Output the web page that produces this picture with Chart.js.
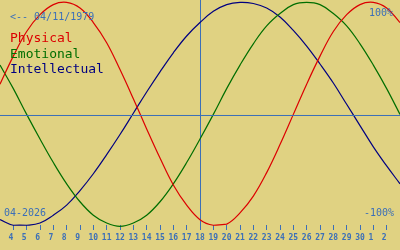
<!DOCTYPE html>
<html>
<head>
<meta charset="utf-8">
<script src="https://cdn.jsdelivr.net/npm/chart.js@4/dist/chart.umd.min.js"></script>
<style>
  html, body { margin: 0; padding: 0; background: #e0d282; }
  #wrap { width: 400px; height: 250px; position: relative; }
</style>
</head>
<body>
<div id="wrap"><canvas id="c"></canvas></div>
<script>
// Days shown (April 2026 continuing into May: 31 = May 1, 32 = May 2, 33 = May 3)
const days = [3,4,5,6,7,8,9,10,11,12,13,14,15,16,17,18,19,20,21,22,23,24,25,26,27,28,29,30,31,32,33];
const physical = [0.28,0.53,0.75,0.90,0.99,1.01,0.96,0.83,0.65,0.41,0.15,-0.12,-0.38,-0.62,-0.80,-0.93,-0.98,-0.97,-0.87,-0.72,-0.51,-0.26,0.01,0.28,0.53,0.75,0.90,0.99,1.01,0.96,0.83];
const emotional = [0.45,0.24,0.01,-0.21,-0.42,-0.61,-0.77,-0.89,-0.96,-0.99,-0.96,-0.89,-0.77,-0.61,-0.42,-0.21,0.01,0.24,0.45,0.64,0.80,0.91,0.99,1.01,0.99,0.91,0.80,0.64,0.45,0.24,0.01];
const intellectual = [-0.93,-0.98,-0.98,-0.96,-0.89,-0.80,-0.67,-0.52,-0.35,-0.17,0.02,0.21,0.39,0.56,0.71,0.83,0.93,0.99,1.01,1.00,0.96,0.88,0.76,0.62,0.46,0.29,0.10,-0.09,-0.28,-0.45,-0.61];
const tickDays = [4,5,6,7,8,9,10,11,12,13,14,15,16,17,18,19,20,21,22,23,24,25,26,27,28,29,30,31,32];
const tickLabels = ['4','5','6','7','8','9','10','11','12','13','14','15','16','17','18','19','20','21','22','23','24','25','26','27','28','29','30','1','2'];
const today = 18;
const birthText = '<-- 04/11/1979';
const monthText = '04-2026';
const seriesNames = ['Physical','Emotional','Intellectual'];

const BLUE = '#3b6fb8';
const RED = '#dc0000';
const GREEN = '#006e00';
const NAVY = '#000080';

const pts = (arr) => days.map((d, i) => ({x: d, y: arr[i]}));

const textPlugin = {
  id: 'texts',
  afterDatasetsDraw(chart) {
    const ctx = chart.ctx;
    ctx.save();
    ctx.textAlign = 'left';
    ctx.textBaseline = 'alphabetic';
    ctx.font = '10px "DejaVu Sans Mono"';
    ctx.fillStyle = BLUE;
    ctx.fillText(birthText, 10, 20);
    ctx.fillText(monthText, 4, 216);
    ctx.fillText('100%', 369, 16);
    ctx.fillText('-100%', 364, 216);
    ctx.font = '13px "DejaVu Sans Mono"';
    const cols = [RED, GREEN, NAVY];
    seriesNames.forEach((n, i) => {
      ctx.fillStyle = cols[i];
      ctx.fillText(n, 10, 42 + i * 15.5);
    });
    ctx.restore();
  }
};

new Chart(document.getElementById('c'), {
  type: 'line',
  data: {
    datasets: [
      { data: [{x: days[0], y: 0}, {x: days[days.length - 1], y: 0}], borderColor: BLUE, borderWidth: 1, tension: 0, clip: false },
      { label: seriesNames[0], data: pts(physical), borderColor: RED, borderWidth: 1.2, tension: 0.4, clip: false },
      { label: seriesNames[1], data: pts(emotional), borderColor: GREEN, borderWidth: 1.2, tension: 0.4, clip: false },
      { label: seriesNames[2], data: pts(intellectual), borderColor: NAVY, borderWidth: 1.2, tension: 0.4, clip: false }
    ]
  },
  options: {
    responsive: true,
    maintainAspectRatio: false,
    animation: false,
    layout: { padding: { left: 0, right: 0, top: 0, bottom: 4.4 } },
    elements: { point: { radius: 0 } },
    plugins: { legend: { display: false }, tooltip: { enabled: false }, title: { display: false } },
    scales: {
      x: {
        type: 'linear',
        min: days[0],
        max: days[days.length - 1],
        afterBuildTicks(scale) { scale.ticks = tickDays.map(v => ({value: v})); },
        ticks: {
          autoSkip: false,
          maxRotation: 0,
          padding: 3,
          color: BLUE,
          font: { family: 'DejaVu Sans Mono', size: 8, weight: 'bold' },
          callback(v) {
            const i = tickDays.indexOf(v);
            const s = i >= 0 ? tickLabels[i] : '';
            return s.length === 1 ? s + ' ' : s;
          }
        },
        grid: {
          drawOnChartArea: true,
          drawTicks: true,
          tickLength: 5,
          lineWidth: 1,
          color: (c) => (c.tick && c.tick.value === today) ? BLUE : 'rgba(0,0,0,0)',
          tickColor: BLUE
        },
        border: { display: false }
      },
      y: {
        display: false,
        min: -0.97768,
        max: 1.03125
      }
    }
  },
  plugins: [textPlugin]
});
</script>
</body>
</html>
